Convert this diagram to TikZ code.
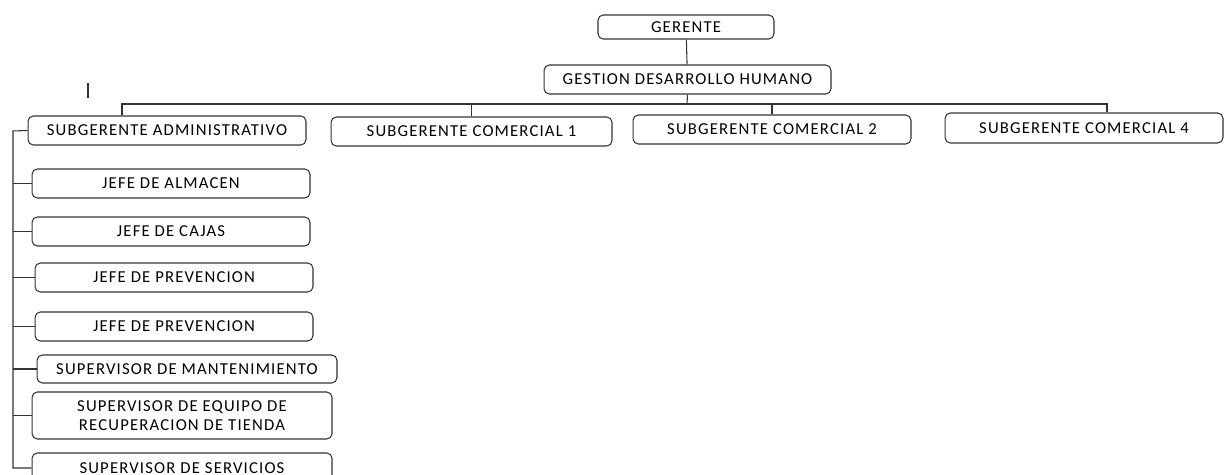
\documentclass[tikz,border=0pt]{standalone}
\usepackage{fontspec}
\setmainfont[LetterSpace=7]{Carlito}
\usetikzlibrary{positioning}

\begin{document}
\begin{tikzpicture}[x=0.02cm, y=-0.02cm, font=\fontsize{9.5}{11}\selectfont,
  box/.style={draw=black!80, line width=0.6pt, rounded corners=3pt, align=center, minimum width=5.56cm, minimum height=0.58cm, inner sep=1pt},
  wbox/.style={box, minimum width=6cm}, ln/.style={draw=black!80, line width=0.6pt}]
\useasboundingbox (0,0) rectangle (1227,475);
\node[box, minimum width=3.52cm, minimum height=0.48cm] (ger) at (686,27) {GERENTE};
\node[box, minimum width=5.74cm] (gdh) at (687.5,79.5) {GESTION DESARROLLO HUMANO};
\node[box] (sa) at (167,130.5) {SUBGERENTE ADMINISTRATIVO};
\node[box, minimum width=5.62cm] (sc1) at (471.5,131.5) {SUBGERENTE COMERCIAL 1};
\node[box] (sc2) at (772,129.5) {SUBGERENTE COMERCIAL 2};
\node[box, minimum height=0.6cm] (sc4) at (1084,128) {SUBGERENTE COMERCIAL 4};
\node[box] (ja) at (171,183.5) {JEFE DE ALMACEN};
\node[box] (jc) at (171,231.5) {JEFE DE CAJAS};
\node[box] (jp1) at (174,277.5) {JEFE DE PREVENCION};
\node[box] (jp2) at (174,326.5) {JEFE DE PREVENCION};
\node[wbox, minimum height=0.56cm] (sm) at (187,369) {SUPERVISOR DE MANTENIMIENTO};
\node[wbox, minimum height=0.94cm] (se) at (182,415.5) {SUPERVISOR DE EQUIPO DE\\RECUPERACION DE TIENDA};
\node[wbox, minimum height=0.6cm] (ss) at (182,468) {SUPERVISOR DE SERVICIOS};
% bus and drops
\coordinate (bus) at (687,104);
\coordinate (busL) at (122,104);
\coordinate (busR) at (1107,104);
\coordinate (spine) at (13,131);
\draw[ln] (ger) -- (gdh);
\draw[ln] (gdh.south) -- (bus);
\draw[ln] (busL |- sa.north) -- (busL) -- (busR) -- (busR |- sc4.north);
\draw[ln] (sc1.north) -- (sc1.north |- bus); \draw[ln] (sc2.north) -- (sc2.north |- bus);
% left spine
\draw[ln] (sa.west) -- (spine) -- (spine |- ss.west) -- (ss.west);
\foreach \n in {ja, jc, jp1, jp2, sm, se} \draw[ln] (spine |- \n.west) -- (\n.west);
\draw[ln] (88,83) -- (88,98);
\end{tikzpicture}
\end{document}
